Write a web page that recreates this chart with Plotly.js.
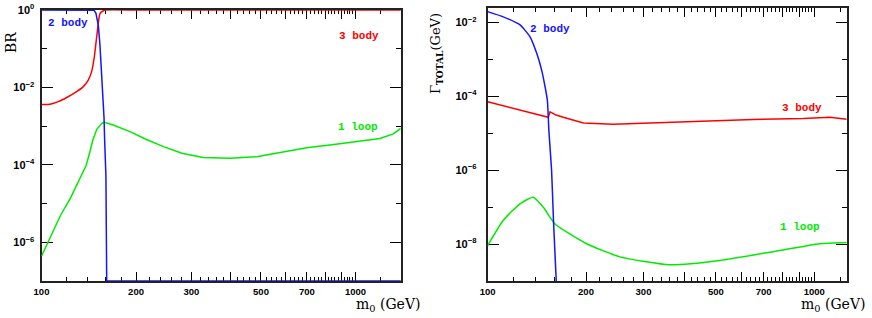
<!DOCTYPE html>
<html>
<head>
<meta charset="utf-8">
<script src="https://cdn.plot.ly/plotly-3.0.1.min.js"></script>
<style>
html,body{margin:0;padding:0;background:#fff;}
#chart{width:872px;height:318px;}
</style>
</head>
<body>
<div id="chart"></div>
<script>
// ---------- Left panel: branching ratios ----------
const brMass2body = [100, 140, 147, 149, 150, 151.7, 153.5, 155.5, 157.4, 158.2, 158.8, 160.4, 161.3, 200, 500, 1000, 1400];
const br2body     = [1, 1, 0.98, 0.83, 0.63, 0.40, 0.126, 0.025, 0.004, 1.6e-3, 5e-4, 5e-5, 1e-7, 1e-7, 1e-7, 1e-7, 1e-7];

const brMass3body = [100, 106.4, 113.1, 120.3, 129.4, 135.9, 140.9, 144.5, 147.3, 149.9, 151.7, 153.5, 157.4, 160, 200, 500, 1000, 1400];
const br3body     = [3.63e-3, 3.7e-3, 4.3e-3, 5.5e-3, 7.8e-3, 1.05e-2, 1.55e-2, 2.6e-2, 6.2e-2, 0.204, 0.457, 0.81, 0.955, 1, 1, 1, 1, 1];

const brMass1loop = [100, 107.8, 115, 123.2, 131, 138.6, 142, 145.5, 150, 155.5, 158.5, 170, 191.3, 215, 244.6, 280, 327, 398, 484, 604, 699, 829, 1009, 1197, 1319, 1393];
const br1loop     = [4.4e-7, 1.7e-6, 5.0e-6, 1.3e-5, 3.6e-5, 9.5e-5, 1.9e-4, 4.2e-4, 8.3e-4, 1.17e-3, 1.26e-3, 1.05e-3, 7.2e-4, 4.6e-4, 2.95e-4, 2.0e-4, 1.55e-4, 1.48e-4, 1.62e-4, 2.19e-4, 2.75e-4, 3.24e-4, 3.98e-4, 4.8e-4, 6.3e-4, 8.7e-4];

// ---------- Right panel: total widths (GeV) ----------
const gMass2body = [100, 111.6, 125.6, 134.8, 141.3, 146.3, 149.9, 152.3, 153.3, 153.9, 156.9, 159, 162.1, 163];
const g2body     = [1.95e-2, 1.41e-2, 8.5e-3, 4.07e-3, 1.45e-3, 5.1e-4, 1.78e-4, 7.8e-5, 2.75e-5, 1.2e-5, 1e-6, 4.4e-8, 1.05e-9, 4e-10];

const gMass3body = [100, 119.8, 136, 153.3, 155.2, 162, 170.4, 196.3, 242.5, 321.4, 457, 650, 925, 1117, 1257];
const g3body     = [7.1e-5, 4.7e-5, 3.55e-5, 2.7e-5, 3.8e-5, 3.1e-5, 2.7e-5, 1.9e-5, 1.74e-5, 1.9e-5, 2.14e-5, 2.34e-5, 2.5e-5, 2.7e-5, 2.4e-5];

const gMass1loop = [100, 111.6, 125.6, 137.9, 147.9, 160.7, 200.9, 254, 361, 514, 731, 1040, 1257];
const g1loop     = [9.1e-9, 4.4e-8, 1.23e-7, 1.86e-7, 1e-7, 3.5e-8, 1.02e-8, 4.5e-9, 2.75e-9, 3.6e-9, 6e-9, 1.02e-8, 1.1e-8];

// ---------- Tick labels ----------
const xMajorVals  = [100, 200, 300, 400, 500, 600, 700, 800, 900, 1000];
const xMajorText  = ['100', '200', '300', '', '500', '', '700', '', '', '1000'];
const xMinorVals  = [120,140,160,180,220,240,260,280,320,340,360,380,420,440,460,480,520,540,560,580,620,640,660,680,720,740,760,780,820,840,860,880,920,940,960,980,1200];
const yLeftVals   = [1, 1e-2, 1e-4, 1e-6];
const yLeftText   = ['10<sup>0</sup>', '10<sup>\u22122</sup>', '10<sup>\u22124</sup>', '10<sup>\u22126</sup>'];
const yLeftMinor  = [1e-1, 1e-3, 1e-5, 1e-7];
const yRightVals  = [1e-2, 1e-4, 1e-6, 1e-8];
const yRightText  = ['10<sup>\u22122</sup>', '10<sup>\u22124</sup>', '10<sup>\u22126</sup>', '10<sup>\u22128</sup>'];
const yRightMinor = [1e-3, 1e-5, 1e-7, 1e-9];

const BLUE = 'rgb(20,20,255)', RED = 'rgb(255,0,0)', GREEN = 'rgb(0,235,0)';
const W = 872, H = 318;
const px = v => v / W, py = v => 1 - v / H;

function line(x, y, color, xa, ya, shape) {
  return {x: x, y: y, xaxis: xa, yaxis: ya, type: 'scatter', mode: 'lines',
          line: {color: color, width: 1.5, shape: shape || 'linear', smoothing: 0.5},
          hoverinfo: 'skip', showlegend: false};
}

const traces = [
  line(brMass3body, br3body, RED, 'x', 'y', 'spline'),
  line(brMass1loop, br1loop, GREEN, 'x', 'y'),
  line(brMass2body, br2body, BLUE, 'x', 'y'),
  line(gMass3body, g3body, RED, 'x2', 'y2'),
  line(gMass1loop, g1loop, GREEN, 'x2', 'y2', 'spline'),
  line(gMass2body, g2body, BLUE, 'x2', 'y2', 'spline')
];

const xTickFont = {family: 'Liberation Sans, Arial, sans-serif', size: 9.5, color: '#000', weight: 'bold'};
const yTickFont = {family: 'Liberation Sans, Arial, sans-serif', size: 11, color: '#000', weight: 'bold'};

function xAxis(domain, range, anchor) {
  return {type: 'log', domain: domain, range: range, anchor: anchor,
    showline: true, linecolor: '#222', linewidth: 2, mirror: 'ticks',
    ticks: 'inside', ticklen: 9, tickwidth: 1, tickcolor: '#000',
    tickmode: 'array', tickvals: xMajorVals, ticktext: xMajorText, tickfont: xTickFont,
    ticklabelstandoff: 1,
    minor: {tickmode: 'array', tickvals: xMinorVals, ticks: 'inside', ticklen: 4, tickwidth: 1, tickcolor: '#000', showgrid: false},
    showgrid: false, zeroline: false, layer: 'below traces', fixedrange: true};
}
function yAxis(domain, range, anchor, vals, text, minor, standoff) {
  return {type: 'log', domain: domain, range: range, anchor: anchor,
    showline: true, linecolor: '#222', linewidth: 2, mirror: 'ticks',
    ticks: 'inside', ticklen: 11, tickwidth: 1, tickcolor: '#000',
    tickmode: 'array', tickvals: vals, ticktext: text, tickfont: yTickFont,
    ticklabelstandoff: standoff,
    minor: {tickmode: 'array', tickvals: minor, ticks: 'inside', ticklen: 5, tickwidth: 1, tickcolor: '#000', showgrid: false},
    showgrid: false, zeroline: false, layer: 'below traces', fixedrange: true};
}

const labFont = (c) => ({family: 'Liberation Mono, Courier New, monospace', size: 11, color: c, weight: 'bold'});
const titleFont = {family: 'DejaVu Serif, serif', size: 14, color: '#000'};

function ann(text, x, y, font, extra) {
  return Object.assign({text: text, xref: 'paper', yref: 'paper', x: px(x), y: py(y),
    xanchor: 'center', yanchor: 'middle', showarrow: false, font: font}, extra || {});
}

const layout = {
  width: W, height: H,
  margin: {l: 0, r: 0, t: 0, b: 0},
  paper_bgcolor: '#fff', plot_bgcolor: '#fff',
  showlegend: false,
  xaxis:  xAxis([px(41.5), px(400.7)], [2, Math.log10(1393)], 'y'),
  yaxis:  yAxis([py(281), py(10)], [-7, 0], 'x', yLeftVals, yLeftText, yLeftMinor, 3),
  xaxis2: xAxis([px(487.7), px(846.7)], [2, Math.log10(1257)], 'y2'),
  yaxis2: yAxis([py(281), py(8.3)], [-9, -1.62], 'x2', yRightVals, yRightText, yRightMinor, 7),
  annotations: [
    ann('2 body', 68, 23, labFont(BLUE)),
    ann('3 body', 359, 36, labFont(RED)),
    ann('1 loop', 358, 127, labFont(GREEN)),
    ann('2 body', 550, 29, labFont(BLUE)),
    ann('3 body', 802, 108, labFont(RED)),
    ann('1 loop', 800, 227, labFont(GREEN)),
    ann('BR', 11, 43, titleFont, {textangle: -90}),
    ann('m<sub>0</sub> (GeV)', 388, 305, titleFont),
    ann('m<sub>0</sub> (GeV)', 833, 305, titleFont),
    ann('\u0393<sub><b>TOTAL</b></sub>(GeV)', 437, 53, {family: 'DejaVu Serif, serif', size: 13, color: '#000'}, {textangle: -90})
  ]
};

Plotly.newPlot('chart', traces, layout, {displayModeBar: false, staticPlot: true});
</script>
</body>
</html>
